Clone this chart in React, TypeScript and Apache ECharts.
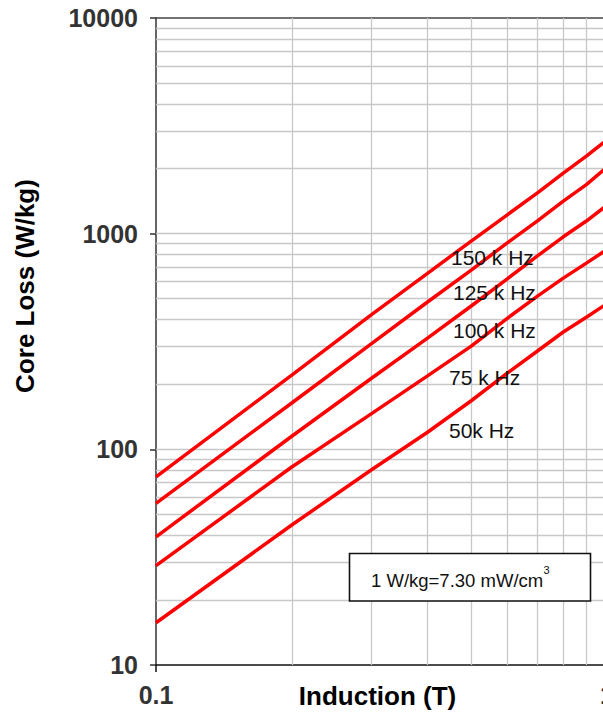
import React, { useEffect, useRef } from "react";
import * as echarts from "echarts";

const inductionT = [0.1, 0.2, 0.3, 0.4, 0.5, 0.6, 0.7, 0.8, 0.9, 1.0];
const loss150k = [74.6, 221, 420, 655, 924, 1220, 1543, 1910, 2290, 2720];
const loss125k = [56.2, 164, 308, 482, 678, 904, 1144, 1416, 1689, 2036];
const loss100k = [39.3, 115, 213, 328, 462, 616, 787, 967, 1144, 1357];
const loss75k = [28.9, 82.8, 146, 219, 301, 404, 512, 622, 730, 845];
const loss50k = [15.7, 44.6, 80.2, 120, 168, 225, 285, 350, 410, 474];

const seriesNames = ["150 k Hz", "125 k Hz", "100 k Hz", "75 k Hz", "50k Hz"];
const seriesValues = [loss150k, loss125k, loss100k, loss75k, loss50k];

const xGridValues = [0.2, 0.3, 0.4, 0.5, 0.6, 0.7, 0.8, 0.9];
const yGridValues = [
  20, 30, 40, 50, 60, 70, 80, 90, 100,
  200, 300, 400, 500, 600, 700, 800, 900, 1000,
  2000, 3000, 4000, 5000, 6000, 7000, 8000, 9000,
];

const xAxisTitle = "Induction (T)";
const yAxisTitle = "Core Loss (W/kg)";
const noteText = "1 W/kg=7.30 mW/cm";
const noteSup = "3";

const labelPos = [
  { x: 451, y: 257 },
  { x: 453, y: 292 },
  { x: 453, y: 330 },
  { x: 449, y: 377 },
  { x: 449, y: 430 },
];

const FONT = "'Liberation Sans', Arial, Helvetica, sans-serif";

export default function App() {
  const ref = useRef<HTMLDivElement>(null);
  useEffect(() => {
    if (!ref.current) return;
    const chart = echarts.init(ref.current, undefined, { renderer: "svg" });
    const lines = seriesValues.map((vals, i) => ({
      name: seriesNames[i],
      type: "line",
      data: inductionT.map((x, j) => [x, vals[j]]),
      showSymbol: false,
      symbol: "none",
      smooth: false,
      lineStyle: { color: "#ff0000", width: 3.5 },
      z: 5,
    }));
    const option = {
      animation: false,
      backgroundColor: "#ffffff",
      grid: {
        left: 156,
        top: 18,
        width: 451,
        height: 647,
        containLabel: false,
        outerBoundsMode: "none",
      },
      xAxis: [
        {
          type: "log",
          logBase: 10,
          min: 0.1,
          max: 1,
          position: "bottom",
          axisLine: { show: true, lineStyle: { color: "#111", width: 1.5 } },
          axisTick: { show: true, length: 7, lineStyle: { color: "#111", width: 1.5 } },
          minorTick: { show: false },
          splitLine: { show: false },
          axisLabel: {
            margin: 17,
            fontSize: 25,
            fontWeight: "bold",
            fontFamily: FONT,
            color: "#333",
            hideOverlap: false,
            formatter: (v: number) => String(+v.toPrecision(3)),
          },
        },
        {
          type: "log",
          logBase: 10,
          min: 0.1,
          max: 1,
          position: "top",
          axisLine: { show: true, lineStyle: { color: "#444", width: 1.5 } },
          axisTick: { show: false },
          axisLabel: { show: false },
          splitLine: { show: false },
        },
      ],
      yAxis: {
        type: "log",
        logBase: 10,
        min: 10,
        max: 10000,
        axisLine: { show: true, lineStyle: { color: "#333", width: 1.5 } },
        axisTick: { show: true, length: 6, lineStyle: { color: "#333", width: 1.5 } },
        splitLine: { show: false },
        axisLabel: {
          margin: 18,
          fontSize: 25,
          fontWeight: "bold",
          fontFamily: FONT,
          color: "#333",
          formatter: (v: number) => String(Math.round(v)),
        },
      },
      series: [
        {
          type: "line",
          name: "grid",
          data: [[0.1, 10]],
          showSymbol: false,
          symbol: "none",
          lineStyle: { opacity: 0 },
          silent: true,
          z: 1,
          markLine: {
            silent: true,
            symbol: "none",
            label: { show: false },
            lineStyle: { color: "#c8c8c8", width: 1.3, type: "solid" },
            emphasis: { disabled: true },
            data: [
              ...xGridValues.map((v) => ({ xAxis: v })),
              ...yGridValues.map((v) => ({ yAxis: v })),
            ],
          },
        },
        ...lines,
      ],
      graphic: [
        ...seriesNames.map((n, i) => ({
          type: "text",
          x: labelPos[i].x,
          y: labelPos[i].y,
          z: 20,
          style: {
            text: n,
            fontSize: 21,
            fontFamily: FONT,
            fill: "#111",
            align: "left",
            verticalAlign: "middle",
          },
        })),
        {
          type: "rect",
          z: 20,
          shape: { x: 349.5, y: 553.5, width: 241, height: 47.5 },
          style: { fill: "#ffffff", stroke: "#111", lineWidth: 1.6 },
        },
        {
          type: "text",
          x: 371,
          y: 580,
          z: 21,
          style: {
            text: noteText,
            fontSize: 18.5,
            fontFamily: FONT,
            fill: "#111",
            align: "left",
            verticalAlign: "middle",
          },
        },
        {
          type: "text",
          x: 543.5,
          y: 570,
          z: 21,
          style: {
            text: noteSup,
            fontSize: 11,
            fontFamily: FONT,
            fill: "#111",
            align: "left",
            verticalAlign: "middle",
          },
        },
        {
          type: "text",
          x: 377.5,
          y: 696,
          z: 21,
          style: {
            text: xAxisTitle,
            fontSize: 26,
            fontWeight: "bold",
            fontFamily: FONT,
            fill: "#000",
            align: "center",
            verticalAlign: "middle",
          },
        },
        {
          type: "text",
          x: 25,
          y: 286,
          rotation: Math.PI / 2,
          z: 21,
          style: {
            text: yAxisTitle,
            fontSize: 26,
            fontWeight: "bold",
            fontFamily: FONT,
            fill: "#000",
            align: "center",
            verticalAlign: "middle",
          },
        },
      ],
    };
    chart.setOption(option as any);
    return () => chart.dispose();
  }, []);
  return (
    <div
      ref={ref}
      style={{ position: "fixed", left: 0, top: 0, width: 603, height: 712, background: "#fff" }}
    />
  );
}
